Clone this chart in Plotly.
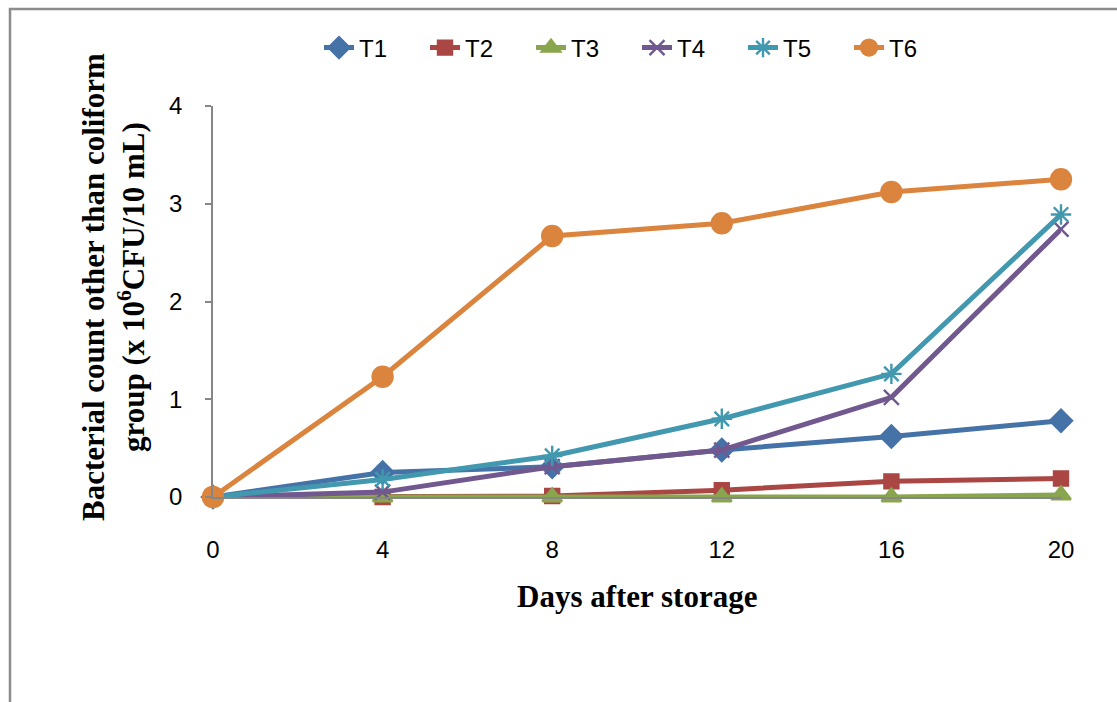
import plotly.graph_objects as go

# Storage days and bacterial counts (x 10^6 CFU/10 mL) for each treatment
days = [0, 4, 8, 12, 16, 20]
t1 = [0.0, 0.25, 0.31, 0.48, 0.62, 0.78]
t2 = [0.0, 0.0, 0.01, 0.07, 0.16, 0.19]
t3 = [0.0, 0.0, 0.0, 0.0, 0.0, 0.02]
t4 = [0.0, 0.05, 0.31, 0.48, 1.02, 2.74]
t5 = [0.0, 0.18, 0.42, 0.80, 1.26, 2.89]
t6 = [0.0, 1.23, 2.67, 2.80, 3.12, 3.25]
y_ticks = [0, 1, 2, 3, 4]

series = [
    ("T1", t1, "#4572A7", "diamond", 17),
    ("T2", t2, "#AA4643", "square", 14),
    ("T3", t3, "#89A54E", "triangle-up", 17),
    ("T4", t4, "#71588F", "x-thin-open", 15),
    ("T5", t5, "#4198AF", "asterisk-open", 17),
    ("T6", t6, "#DB843D", "circle", 20),
]

W, H = 1117, 702
L, R, T, B = 213, 56, 106, 205
pw, ph = W - L - R, H - T - B

fig = go.Figure()
for name, vals, color, symbol, size in series:
    fig.add_trace(go.Scatter(
        x=days, y=vals, name=name, mode="lines+markers",
        line=dict(color=color, width=5),
        marker=dict(symbol=symbol, size=size, color=color,
                    line=dict(color=color, width=2.4)),
        cliponaxis=False,
    ))

tick_font = dict(family="Liberation Sans, Arial, sans-serif", size=24, color="#000000")
title_font = dict(family="Liberation Serif, Times New Roman, serif", size=31, color="#000000")

fig.update_layout(
    width=W, height=H,
    margin=dict(l=L, r=R, t=T, b=B, autoexpand=False),
    paper_bgcolor="white", plot_bgcolor="white",
    showlegend=True,
    legend=dict(
        orientation="h", x=0.5, xanchor="center",
        y=(H - B - 48) / ph, yanchor="middle",
        font=tick_font, entrywidth=61, entrywidthmode="pixels",
        itemwidth=30, tracegroupgap=0,
    ),
    xaxis=dict(
        range=[0, 20], tickmode="array", tickvals=days,
        ticktext=[str(d) for d in days], ticks="",
        showgrid=False, zeroline=False,
        showline=True, linecolor="#868686", linewidth=1.5,
        tickfont=tick_font, ticklabelstandoff=30,
    ),
    yaxis=dict(
        range=[0, 4], tickmode="array", tickvals=y_ticks,
        ticks="outside", ticklen=6, tickwidth=1.5, tickcolor="#868686",
        showgrid=False, zeroline=False,
        showline=True, linecolor="#868686", linewidth=1.5,
        tickfont=tick_font, ticklabelstandoff=18,
    ),
    annotations=[
        dict(text="<b>Days after storage</b>", xref="paper", yref="paper",
             x=(637 - L) / pw, y=(H - B - 596) / ph,
             xanchor="center", yanchor="middle", showarrow=False, font=title_font),
        dict(text="<b>Bacterial count other than coliform<br>group (x 10<sup>6</sup>CFU/10 mL)</b>",
             xref="paper", yref="paper",
             x=(113 - L) / pw, y=(H - B - 287) / ph, textangle=-90,
             xanchor="center", yanchor="middle", showarrow=False, font=title_font),
    ],
    shapes=[
        dict(type="rect", xref="paper", yref="paper",
             x0=(10 - L) / pw, x1=(W + 20 - L) / pw,
             y0=(H - B - (H + 20)) / ph, y1=(H - B - 9) / ph,
             line=dict(color="#8C8C8C", width=2.5), fillcolor="rgba(0,0,0,0)",
             layer="below"),
    ],
)

fig.write_html("out.html")
